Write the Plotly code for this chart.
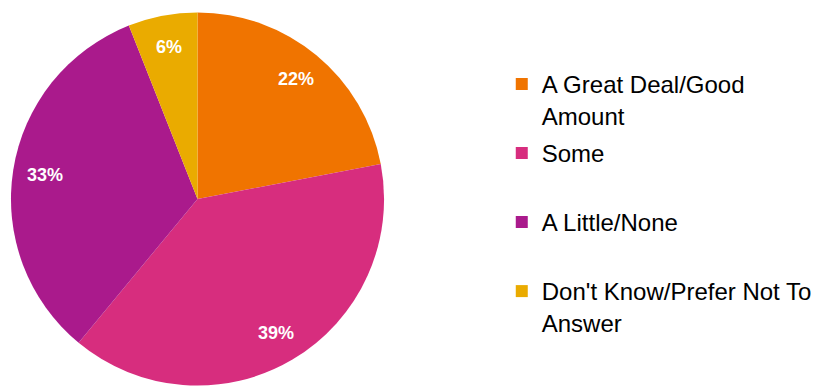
import math
import plotly.graph_objects as go

categories = ["A Great Deal/Good<br>Amount", "Some", "A Little/None", "Don't Know/Prefer Not To<br>Answer"]
values = [22, 39, 33, 6]
labels_txt = ["22%", "39%", "33%", "6%"]
colors = ["#F07400", "#D72D7E", "#AA1A8C", "#EAAB00"]

W, H = 817, 386
mt, mb, ml, mr = 12, 0, 0, 0
cx_px = 198
pie_d = H - mt - mb
dom_x = [(cx_px - pie_d / 2) / W, (cx_px + pie_d / 2) / W]

FONT = "'Liberation Sans', Arial, sans-serif"

fig = go.Figure()
fig.add_trace(go.Pie(
    values=values, labels=categories, marker=dict(colors=colors),
    sort=False, direction="clockwise", rotation=0,
    textinfo="none", hoverinfo="skip", showlegend=False,
    domain=dict(x=dom_x, y=[0, 1]),
))

for i, (name, c) in enumerate(zip(categories, colors)):
    # pad single-line labels to two lines so every legend entry has equal height
    legend_name = name if "<br>" in name else name + "<br> "
    fig.add_trace(go.Scatter(
        x=[None], y=[None], mode="markers", name=legend_name,
        marker=dict(symbol="square", size=12, color=c),
        legendgroup=f"g{i}", showlegend=True,
    ))

# percentage labels placed along each slice's mid-angle
total = sum(values)
cx_p = (dom_x[0] + dom_x[1]) / 2
cy_p = 0.5
r_x = (dom_x[1] - dom_x[0]) / 2
r_y = 0.5
cum = 0
for v, t in zip(values, labels_txt):
    th = (cum + v / 2) / total * 2 * math.pi
    cum += v
    fig.add_annotation(
        x=cx_p + 0.83 * r_x * math.sin(th), y=cy_p + 0.83 * r_y * math.cos(th),
        xref="paper", yref="paper", text=f"<b>{t}</b>", showarrow=False,
        font=dict(family=FONT, size=18, color="white"),
        xanchor="center", yanchor="middle",
    )

fig.update_layout(
    width=W, height=H,
    margin=dict(l=ml, r=mr, t=mt, b=mb),
    paper_bgcolor="white", plot_bgcolor="white",
    font=dict(family=FONT),
    xaxis=dict(visible=False), yaxis=dict(visible=False),
    legend=dict(
        x=503 / W, y=(H - 62) / (H - mt - mb), xanchor="left", yanchor="top",
        font=dict(family=FONT, size=24, color="#000"),
        valign="top", tracegroupgap=3.6, traceorder="grouped",
        bgcolor="rgba(0,0,0,0)", borderwidth=0,
    ),
    showlegend=True,
)

fig.write_html("out.html")
